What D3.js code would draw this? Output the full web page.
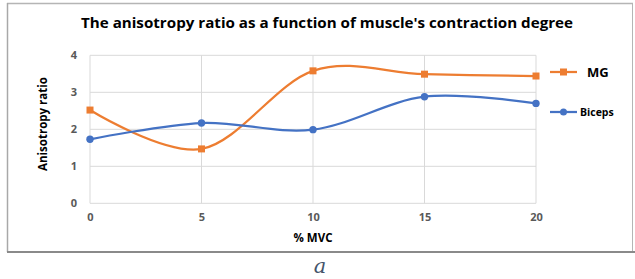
<!DOCTYPE html>
<html><head><meta charset="utf-8">
<script src="https://cdn.jsdelivr.net/npm/d3@7"></script>
<style>body{margin:0;background:#fff}svg{display:block}</style>
</head><body>
<script>
const categories = [0, 5, 10, 15, 20];
const mgValues = [2.52, 1.47, 3.58, 3.49, 3.44];
const bicepsValues = [1.73, 2.17, 1.99, 2.88, 2.70];
const yTicks = [0, 1, 2, 3, 4];
const seriesNames = ["MG", "Biceps"];
const colors = ["#ED7D31", "#4472C4"];

const W = 635, H = 279;
const svg = d3.select("body").append("svg").attr("width", W).attr("height", H);

// outer frame
svg.append("line").attr("x1", 7).attr("x2", 633).attr("y1", 3.5).attr("y2", 3.5).attr("stroke", "#b5b5b5").attr("stroke-width", 1.5);
svg.append("line").attr("x1", 7.5).attr("x2", 7.5).attr("y1", 3).attr("y2", 252).attr("stroke", "#a8a8a8").attr("stroke-width", 1.5);
svg.append("line").attr("x1", 632.5).attr("x2", 632.5).attr("y1", 3).attr("y2", 252).attr("stroke", "#b5b5b5").attr("stroke-width", 1);
svg.append("line").attr("x1", 7).attr("x2", 635).attr("y1", 252).attr("y2", 252).attr("stroke", "#8a8a8a").attr("stroke-width", 2);

const x = d3.scaleLinear().domain([0, 20]).range([90, 536]);
const y = d3.scaleLinear().domain([0, 4]).range([203.3, 55.3]);

// gridlines
const g = svg.append("g");
g.selectAll(".hg").data(yTicks).join("line")
  .attr("x1", x(0)).attr("x2", x(20)).attr("y1", d => y(d)).attr("y2", d => y(d))
  .attr("stroke", "#d9d9d9").attr("stroke-width", 1);
g.selectAll(".vg").data(categories).join("line")
  .attr("x1", d => x(d)).attr("x2", d => x(d)).attr("y1", y(0)).attr("y2", y(4))
  .attr("stroke", "#d9d9d9").attr("stroke-width", 1);

// axes (labels only)
const yAxis = d3.axisLeft(y).tickValues(yTicks).tickFormat(d3.format("d")).tickSize(0).tickPadding(15);
const ya = svg.append("g").attr("transform", `translate(${x(0)},0)`).call(yAxis);
ya.select(".domain").remove();
ya.selectAll("text").attr("font-family", "'Open Sans', sans-serif").attr("font-weight", "bold")
  .attr("font-size", 11).attr("fill", "#595959").attr("text-anchor", "middle")
  .attr("transform", "translate(-1,0)");

const xAxis = d3.axisBottom(x).tickValues(categories).tickFormat(d3.format("d")).tickSize(0).tickPadding(10);
const xa = svg.append("g").attr("transform", `translate(0,${y(0)})`).call(xAxis);
xa.select(".domain").remove();
xa.selectAll("text").attr("font-family", "'Open Sans', sans-serif").attr("font-weight", "bold")
  .attr("font-size", 11).attr("fill", "#595959");

// lines
const series = [mgValues, bicepsValues];
const line = d3.line().x((d, i) => x(categories[i])).y(d => y(d)).curve(d3.curveCardinal.tension(0));
series.forEach((vals, si) => {
  svg.append("path").datum(vals).attr("d", line).attr("fill", "none")
    .attr("stroke", colors[si]).attr("stroke-width", 2.25);
});
// markers
svg.selectAll(".mg").data(mgValues).join("rect")
  .attr("x", (d, i) => x(categories[i]) - 3.5).attr("y", d => y(d) - 3.5)
  .attr("width", 7).attr("height", 7).attr("fill", colors[0]);
svg.selectAll(".bi").data(bicepsValues).join("circle")
  .attr("cx", (d, i) => x(categories[i])).attr("cy", d => y(d)).attr("r", 3.7).attr("fill", colors[1]);

// title
svg.append("text").attr("x", 327).attr("y", 28).attr("text-anchor", "middle")
  .attr("font-family", "'Open Sans', sans-serif").attr("font-weight", "bold").attr("font-size", 14)
  .attr("textLength", 492).attr("lengthAdjust", "spacingAndGlyphs").attr("fill", "#000")
  .text("The anisotropy ratio as a function of muscle's contraction degree");

// axis titles
svg.append("text").attr("x", 313).attr("y", 242).attr("text-anchor", "middle")
  .attr("font-family", "'Open Sans', sans-serif").attr("font-weight", "bold").attr("font-size", 11.5)
  .attr("fill", "#000").text("% MVC");
svg.append("text").attr("transform", "translate(47,124) rotate(-90)").attr("text-anchor", "middle")
  .attr("font-family", "'Open Sans', sans-serif").attr("font-weight", "bold").attr("font-size", 11.5)
  .attr("fill", "#000").text("Anisotropy ratio");

// legend
const leg = [{name: seriesNames[0], y: 72, tx: 587, fs: 13}, {name: seriesNames[1], y: 112, tx: 580, fs: 10.5}];
leg.forEach((l, i) => {
  svg.append("line").attr("x1", 550).attr("x2", 577).attr("y1", l.y).attr("y2", l.y)
    .attr("stroke", colors[i]).attr("stroke-width", 2.25);
  if (i === 0) svg.append("rect").attr("x", 560).attr("y", l.y - 3.5).attr("width", 7).attr("height", 7).attr("fill", colors[i]);
  else svg.append("circle").attr("cx", 563.5).attr("cy", l.y).attr("r", 3.5).attr("fill", colors[i]);
  svg.append("text").attr("x", l.tx).attr("y", l.y).attr("dy", "0.35em")
    .attr("font-family", "'Open Sans', sans-serif").attr("font-weight", "bold").attr("font-size", l.fs)
    .attr("fill", "#000").text(l.name);
});

// caption
svg.append("text").attr("x", 320).attr("y", 273).attr("text-anchor", "middle")
  .attr("font-family", "'DejaVu Serif', 'Liberation Serif', serif").attr("font-style", "italic")
  .attr("font-size", 21).attr("fill", "#44546a").text("a");
</script>
</body></html>
